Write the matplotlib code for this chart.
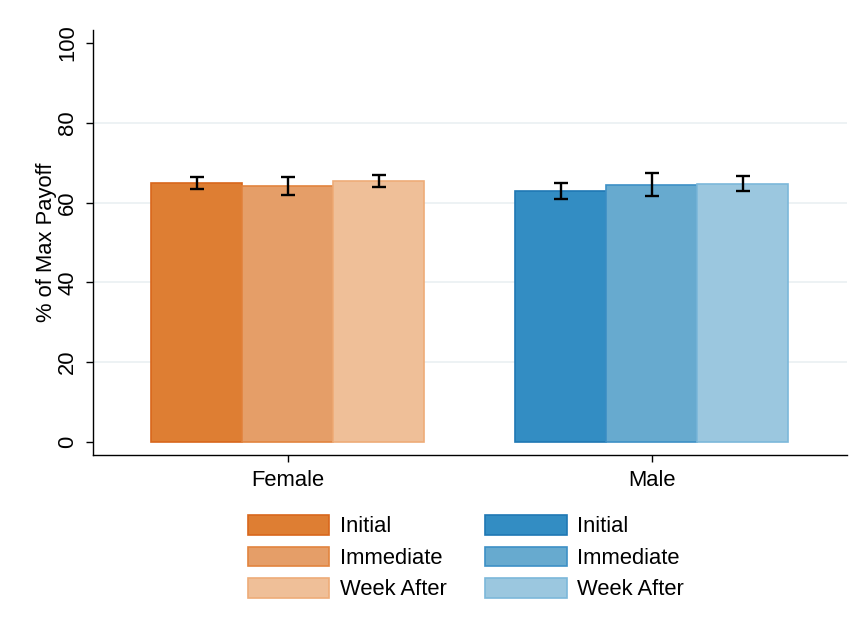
import matplotlib
matplotlib.use("Agg")
import matplotlib.pyplot as plt
import numpy as np
from matplotlib.patches import Patch

plt.rcParams["font.family"] = ["Liberation Sans", "DejaVu Sans"]

# Mean % of max payoff by gender and time point, with error half-widths
groups = ["Female", "Male"]
phases = ["Initial", "Immediate", "Week After"]
female_means = [65.0, 64.1, 65.3]
female_err = [1.5, 2.3, 1.5]
male_means = [63.0, 64.5, 64.7]
male_err = [2.0, 2.8, 1.9]
yticks = [0, 20, 40, 60, 80, 100]

female_fill = ["#de7e33", "#e59e68", "#efbf98"]
female_edge = ["#d8671c", "#e2843e", "#eeac78"]
male_fill = ["#338dc3", "#67aacf", "#9bc7df"]
male_edge = ["#1f78b4", "#3d90c6", "#7cb8da"]

FS = 15.8

fig = plt.figure(figsize=(8.6, 6.33), dpi=100)
ax = fig.add_axes([0.108, 0.281, 0.877, 0.672])

width = 0.25
offsets = np.array([-1, 0, 1]) * width
x = np.arange(len(groups))

for gi, (means, errs, fills, edges) in enumerate([
        (female_means, female_err, female_fill, female_edge),
        (male_means, male_err, male_fill, male_edge)]):
    pos = x[gi] + offsets
    ax.bar(pos, means, width=width, color=fills, edgecolor=edges,
           linewidth=1.2, zorder=2)
    ax.errorbar(pos, means, yerr=errs, fmt="none", ecolor="black",
                elinewidth=1.7, capsize=5, capthick=1.7, zorder=3)

ax.set_xlim(-0.536, 1.536)
ax.set_ylim(-3.3, 103.3)
ax.set_yticks(yticks)
ax.set_yticklabels([str(v) for v in yticks], rotation=90, va="center",
                   fontsize=FS)
ax.set_xticks(x)
ax.set_xticklabels(groups, fontsize=FS)
ax.set_ylabel("% of Max Payoff", fontsize=FS, labelpad=0.5)

for v in yticks[1:-1]:
    ax.axhline(v, color="#eaf0f2", linewidth=1.2, zorder=0)

for s in ["top", "right"]:
    ax.spines[s].set_visible(False)
for s in ["left", "bottom"]:
    ax.spines[s].set_color("black")
    ax.spines[s].set_linewidth(1.0)
ax.tick_params(axis="both", length=5, width=1, color="black")
ax.tick_params(axis="y", pad=5.5)
ax.tick_params(axis="x", pad=6)

handles = [Patch(facecolor=f, edgecolor=e, linewidth=1.2)
           for f, e in zip(female_fill, female_edge)]
handles += [Patch(facecolor=f, edgecolor=e, linewidth=1.2)
            for f, e in zip(male_fill, male_edge)]
labels = phases + phases
fig.legend(handles, labels, loc="center", bbox_to_anchor=(0.542, 0.119),
           ncol=2, frameon=False, fontsize=FS, handlelength=3.7,
           handleheight=1.0, labelspacing=0.42, handletextpad=0.5,
           columnspacing=1.75)

fig.savefig("out.png", dpi=100, facecolor="white")
